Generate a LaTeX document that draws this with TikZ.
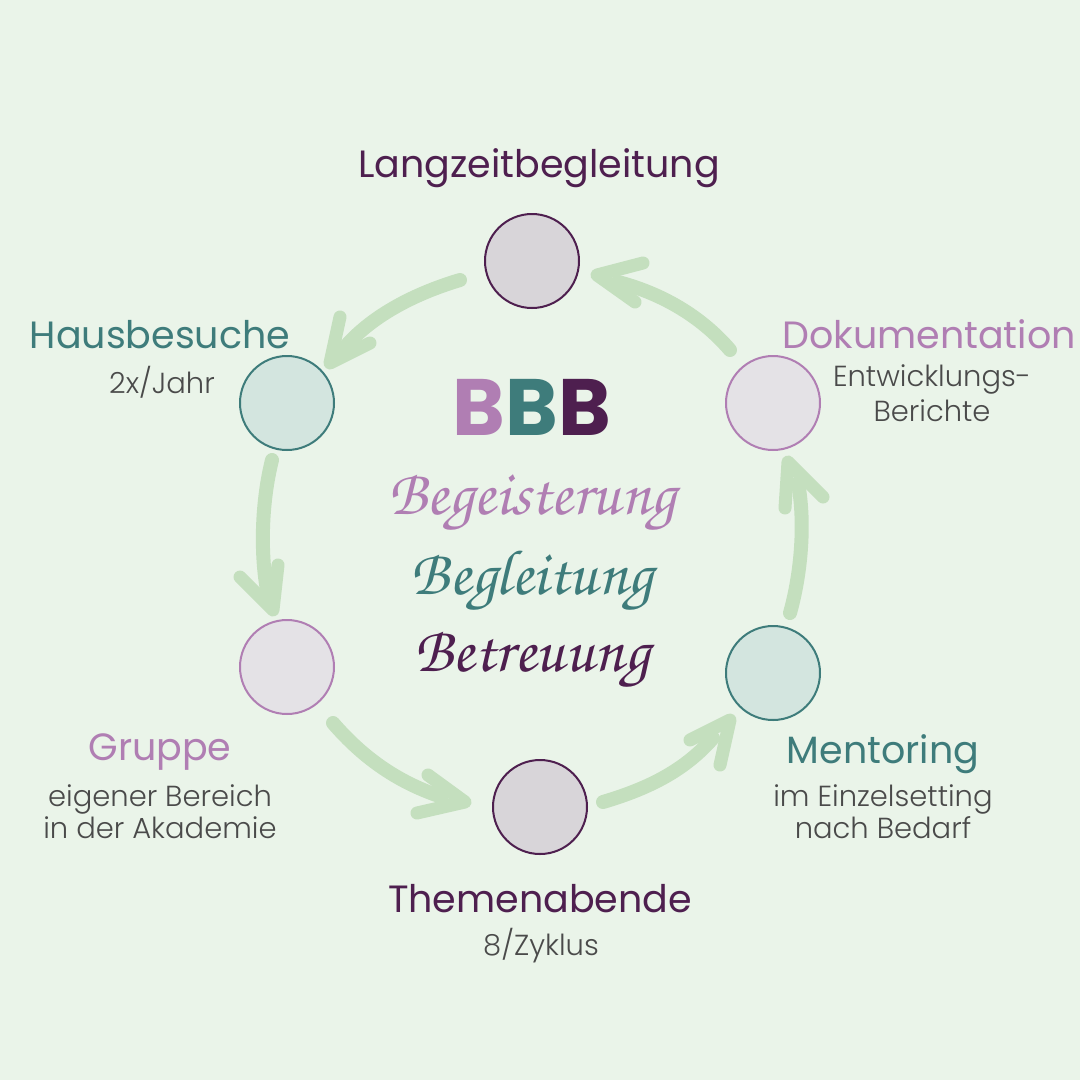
\documentclass[tikz,border=0pt]{standalone}
\usepackage{fontspec}
\setmainfont{Poppins}
\newfontfamily\lightfont{Poppins Light}
\newfontfamily\cursivefont{texgyrechorus-mediumitalic.otf}
\definecolor{bg}{HTML}{EAF4E9}
\definecolor{arrowc}{HTML}{C4DFBE}
\definecolor{lpur}{HTML}{B07EB3}
\definecolor{tealc}{HTML}{3E7C7B}
\definecolor{dpur}{HTML}{4E1F4F}
\definecolor{graytxt}{HTML}{4A4A4A}
\definecolor{cgray}{HTML}{D8D5D9}
\definecolor{cteal}{HTML}{D3E5DF}
\definecolor{clight}{HTML}{E4E2E6}
\tikzset{
  circ/.style={circle, minimum size=94pt, inner sep=0pt, line width=2pt},
  dcirc/.style={circ, draw=dpur, fill=cgray},
  tcirc/.style={circ, draw=tealc, fill=cteal},
  lcirc/.style={circ, draw=lpur, fill=clight},
  title/.style={anchor=base, inner sep=0pt, font=\fontsize{38}{43}\selectfont},
  sub/.style={anchor=base, inner sep=0pt, text=graytxt, font=\lightfont\fontsize{29}{32}\selectfont},
  scr/.style={anchor=base, inner sep=0pt, font=\cursivefont\fontsize{64}{68}\selectfont},
  shaft/.style={draw=arrowc, line width=14pt, line cap=round},
  head/.style={draw=arrowc, line width=13pt, line cap=round, line join=round},
}
\begin{document}
\begin{tikzpicture}[x=1pt,y=-1pt]
\fill[bg] (0,0) rectangle (1080,1080);
\useasboundingbox (0,0) rectangle (1080,1080);

% circles
\node[dcirc] (c1) at (532,261) {};
\node[tcirc] (c2) at (287,403) {};
\node[lcirc] (c3) at (773,403) {};
\node[lcirc] (c4) at (287,667) {};
\node[dcirc] (c5) at (540,807) {};
\node[tcirc] (c6) at (773,673) {};

% arrows
\coordinate (a1s) at (460,280); \coordinate (a1e) at (345,347);
\coordinate (a1l) at (340,317); \coordinate (a1t) at (330,363); \coordinate (a1r) at (370,343);
\draw[shaft] (a1s) .. controls (410,295) and (370,318) .. (a1e);
\draw[head] (a1l) -- (a1t) -- (a1r);

\coordinate (a2s) at (730,350); \coordinate (a2e) at (618,282);
\coordinate (a2l) at (643,263); \coordinate (a2t) at (597,275); \coordinate (a2r) at (635,302);
\draw[shaft] (a2s) .. controls (700,315) and (660,293) .. (a2e);
\draw[head] (a2l) -- (a2t) -- (a2r);

\coordinate (a3s) at (272,460); \coordinate (a3e) at (267,590);
\coordinate (a3l) at (240,577); \coordinate (a3t) at (273,610); \coordinate (a3r) at (278,565);
\draw[shaft] (a3s) .. controls (262,500) and (260,550) .. (a3e);
\draw[head] (a3l) -- (a3t) -- (a3r);

\coordinate (a4s) at (790,613); \coordinate (a4e) at (798,483);
\coordinate (a4l) at (785,508); \coordinate (a4t) at (788,462); \coordinate (a4r) at (823,497);
\draw[shaft] (a4s) .. controls (802,570) and (805,520) .. (a4e);
\draw[head] (a4l) -- (a4t) -- (a4r);

\coordinate (a5s) at (333,723); \coordinate (a5e) at (442,797);
\coordinate (a5l) at (428,775); \coordinate (a5t) at (465,802); \coordinate (a5r) at (417,813);
\draw[shaft] (a5s) .. controls (365,760) and (400,783) .. (a5e);
\draw[head] (a5l) -- (a5t) -- (a5r);

\coordinate (a6s) at (603,802); \coordinate (a6e) at (713,738);
\coordinate (a6l) at (690,740); \coordinate (a6t) at (730,720); \coordinate (a6r) at (720,765);
\draw[shaft] (a6s) .. controls (650,788) and (685,770) .. (a6e);
\draw[head] (a6l) -- (a6t) -- (a6r);

% labels
\node[title, text=dpur] (t1) at (539,177) {Langzeitbegleitung};
\node[title, text=tealc] (t2) at (160,348) {Hausbesuche};
\node[sub] (s2) at (162,393) {2x/Jahr};
\node[title, text=lpur] (t3) at (929,348) {Dokumentation};
\node[sub] (s3a) at (932,386) {Entwicklungs-};
\node[sub] (s3b) at (932,421) {Berichte};
\node[title, text=lpur] (t4) at (160,760) {Gruppe};
\node[sub] (s4a) at (160,806) {eigener Bereich};
\node[sub] (s4b) at (160,838) {in der Akademie};
\node[title, text=dpur] (t5) at (540,912) {Themenabende};
\node[sub] (s5) at (541,955) {8/Zyklus};
\node[title, text=tealc] (t6) at (883,763) {Mentoring};
\node[sub] (s6a) at (883,806) {im Einzelsetting};
\node[sub] (s6b) at (883,838) {nach Bedarf};

% center
\node[anchor=base, inner sep=0pt, font=\bfseries\fontsize{80}{84}\selectfont] (bbb) at (532,435)
  {\textcolor{lpur}{B}\textcolor{tealc}{B}\textcolor{dpur}{B}};
\node[scr, text=lpur] (w1) at (532,514) {Begeisterung};
\node[scr, text=tealc] (w2) at (532,594) {Begleitung};
\node[scr, text=dpur] (w3) at (532,671) {Betreuung};
\end{tikzpicture}
\end{document}
